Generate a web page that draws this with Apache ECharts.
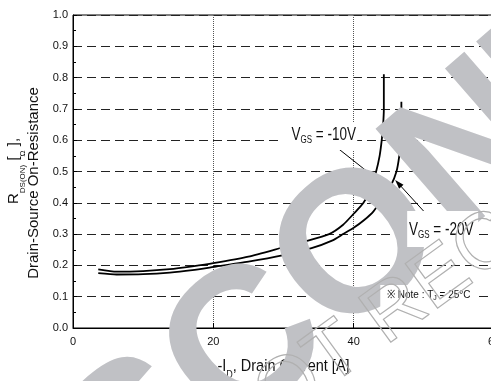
<!DOCTYPE html>
<html><head><meta charset="utf-8">
<script src="https://cdn.jsdelivr.net/npm/echarts@6/dist/echarts.min.js"></script>
<style>html,body{margin:0;padding:0;background:#fff}#c{width:491px;height:381px}</style>
</head><body><div id="c"></div>
<script>
// ---- data ----
const currentVgs10 = [3.6, 6.2, 10, 13.8, 17, 20, 25, 30, 33, 36.5, 38.5, 40, 41.4, 42.5, 43.2, 43.7, 44.0, 44.2, 44.3, 44.3];
const rdsVgs10     = [0.1875, 0.180, 0.182, 0.188, 0.197, 0.207, 0.228, 0.258, 0.276, 0.300, 0.330, 0.365, 0.400, 0.450, 0.500, 0.550, 0.600, 0.650, 0.700, 0.811];
const currentVgs20 = [3.6, 6.2, 10, 13.8, 17, 20, 25, 30, 34, 37, 38.5, 40, 41.5, 42.8, 44.0, 45.3, 46.1, 46.5, 46.7, 46.8, 46.8];
const rdsVgs20     = [0.175, 0.171, 0.172, 0.177, 0.185, 0.195, 0.212, 0.233, 0.255, 0.280, 0.300, 0.320, 0.345, 0.372, 0.410, 0.455, 0.500, 0.550, 0.600, 0.650, 0.723];
const yTickLabels = ['0.0','0.1','0.2','0.3','0.4','0.5','0.6','0.7','0.8','0.9','1.0'];
const xTickLabels = ['0','20','40','60'];

// annotation anchors in data units
const label10At = [35.73, 0.6166];
const leader10 = [[36.56, 0.5952], [42.92, 0.4824]];
const label20At = [52.47, 0.3131];
const arrow20 = [[50.91, 0.3505], [45.92, 0.4728]];
const noteAt = [44.75, 0.1054];

const FONT = '"Liberation Sans", Arial, sans-serif';
const pairs = (xs, ys) => xs.map((x, i) => [x, ys[i]]);

const chart = echarts.init(document.getElementById('c'), null, {renderer: 'canvas'});
chart.setOption({
  animation: false,
  backgroundColor: '#fff',
  grid: {left: 73, right: -3, top: 15, bottom: 53, containLabel: false, outerBoundsMode: 'none',
    show: true, borderColor: '#000', borderWidth: 1, backgroundColor: 'transparent'},
  xAxis: {
    type: 'value', min: 0, max: 60, interval: 20,
    axisLine: {show: true, lineStyle: {color: '#000', width: 1}},
    axisTick: {show: true, inside: true, length: 5, lineStyle: {color: '#000'}},
    axisLabel: {fontSize: 11, color: '#111', margin: 8, fontFamily: FONT,
      formatter: v => xTickLabels[Math.round(v / 20)]},
    splitLine: {show: true, lineStyle: {type: 'dotted', color: '#555', width: 1}}
  },
  yAxis: {
    type: 'value', min: 0, max: 1, interval: 0.1,
    axisLine: {show: true, lineStyle: {color: '#000', width: 1}},
    axisTick: {show: true, inside: true, length: 4, lineStyle: {color: '#000'}},
    minorTick: {show: true, splitNumber: 2, length: 3, lineStyle: {color: '#000'}},
    axisLabel: {fontSize: 11, color: '#111', margin: 5, fontFamily: FONT,
      formatter: v => yTickLabels[Math.round(v * 10)]},
    splitLine: {show: true, lineStyle: {type: [9, 5], color: '#222', width: 1}}
  },
  series: [
    {name: 'VGS=-10V', type: 'line', data: pairs(currentVgs10, rdsVgs10), showSymbol: false, smooth: 0.2,
      lineStyle: {color: '#000', width: 1.8}},
    {name: 'VGS=-20V', type: 'line', data: pairs(currentVgs20, rdsVgs20), showSymbol: false, smooth: 0.2,
      lineStyle: {color: '#000', width: 1.8}}
  ]
});

const P = d => chart.convertToPixel({gridIndex: 0}, d);
const l10 = P(label10At), a10 = P(leader10[0]), b10 = P(leader10[1]);
const l20 = P(label20At), a20 = P(arrow20[0]), b20 = P(arrow20[1]);
const nt = P(noteAt);
// arrow head
const dx = b20[0] - a20[0], dy = b20[1] - a20[1], L = Math.hypot(dx, dy);
const ux = dx / L, uy = dy / L, hl = 9, hw = 3;
const head = [[b20[0], b20[1]],
  [b20[0] - ux * hl - uy * hw, b20[1] - uy * hl + ux * hw],
  [b20[0] - ux * hl + uy * hw, b20[1] - uy * hl - ux * hw]];

const subRich = (main, sub, mainLH, subLH) => ({
  n: {fontSize: main, fontFamily: FONT, fill: '#111', lineHeight: mainLH},
  s: {fontSize: sub, fontFamily: FONT, fill: '#111', lineHeight: subLH, verticalAlign: 'bottom'}
});

chart.setOption({
  graphic: [
    // watermarks
    {type: 'text', x: 516, y: 116, rotation: 0.7156, z: 50, silent: true,
      style: {text: 'DISCONTINUED', fontSize: 200, fontWeight: 'bold', fontFamily: FONT, fill: '#c0c1c5', align: 'center', verticalAlign: 'middle'}},
    {type: 'text', x: 556, y: 195, rotation: 0.628, z: 130, silent: true,
      style: {text: 'NOT RECOMMENDED', fontSize: 80, fontFamily: FONT, fill: 'rgba(0,0,0,0)', stroke: '#b0b0b0', lineWidth: 1.2, align: 'center', verticalAlign: 'middle'}},
    // leader lines
    {type: 'line', z: 40, shape: {x1: a10[0], y1: a10[1], x2: b10[0], y2: b10[1]}, style: {stroke: '#000', lineWidth: 1}},
    {type: 'line', z: 40, shape: {x1: a20[0], y1: a20[1], x2: b20[0] - ux * 6, y2: b20[1] - uy * 6}, style: {stroke: '#000', lineWidth: 1}},
    {type: 'polygon', z: 40, shape: {points: head}, style: {fill: '#000'}},
    // label boxes
    {type: 'rect', z: 120, shape: {x: l10[0] - 5 - 38.5, y: l10[1] + 1 - 14, width: 77, height: 28}, style: {fill: '#fff'}},
    {type: 'text', z: 121, x: l10[0], y: l10[1], scaleY: 1.3,
      style: {text: '{n|V}{s|GS}{n| = -10V}', rich: subRich(13.5, 8, 16, 8), align: 'center', verticalAlign: 'middle'}},
    {type: 'rect', z: 120, shape: {x: l20[0] + 1.5 - 35.5, y: l20[1] - 1 - 18, width: 71, height: 36}, style: {fill: '#fff'}},
    {type: 'text', z: 121, x: l20[0], y: l20[1], scaleY: 1.3,
      style: {text: '{n|V}{s|GS}{n| = -20V}', rich: subRich(13.5, 8, 16, 8), align: 'center', verticalAlign: 'middle'}},
    {type: 'rect', z: 120, shape: {x: nt[0] - 6.7, y: nt[1] - 10, width: 97, height: 22}, style: {fill: '#fff'}},
    {type: 'text', z: 121, x: nt[0], y: nt[1], scaleY: 1.15,
      style: {text: '{n|※ Note : T}{s|J}{n| = 25°C}', rich: subRich(10, 7, 12, 6), align: 'left', verticalAlign: 'middle'}},
    // axis titles
    {type: 'text', z: 10, x: 283.5, y: 366, scaleY: 1.2,
      style: {text: '{n|-I}{s|D}{n|, Drain Current [A]}', rich: subRich(14.5, 9, 24, 8), align: 'center', verticalAlign: 'middle'}},
    {type: 'text', z: 10, x: 14, y: 171, rotation: Math.PI / 2,
      style: {text: '{n|R}{s|DS(ON)}{n| [}{s|Ω}{n| ],}', rich: subRich(15, 8, 26, 8), align: 'center', verticalAlign: 'middle'}},
    {type: 'text', z: 10, x: 33.5, y: 183, rotation: Math.PI / 2,
      style: {text: 'Drain-Source On-Resistance', fontSize: 15, fontFamily: FONT, fill: '#111', align: 'center', verticalAlign: 'middle'}}
  ]
});
</script>
</body></html>
